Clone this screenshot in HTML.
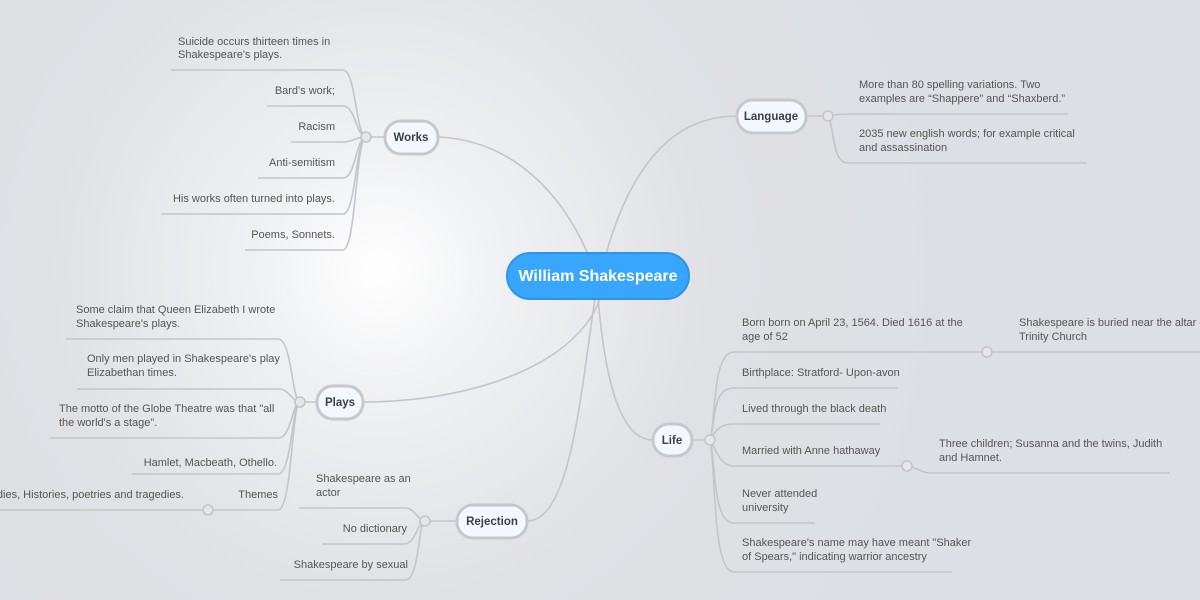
<!DOCTYPE html>
<html><head><meta charset="utf-8"><style>
html,body{margin:0;padding:0;width:1200px;height:600px;overflow:hidden;}
body{background:radial-gradient(circle at 380px 270px,#ffffff 0,#f0f1f3 120px,#dfe1e5 330px,#dcdfe3 600px);font-family:"Liberation Sans",sans-serif;}
svg{position:absolute;left:0;top:0}
text{font-family:"Liberation Sans",sans-serif;font-size:11px;fill:#555}
.b{font-weight:bold;fill:#3a3f4a;font-size:11.5px}
</style></head><body>
<svg width="1200" height="600" viewBox="0 0 1200 600">
<g fill="none" stroke="#c3c5c9" stroke-width="1.6">
<!-- center to mains -->
<path d="M588 254 C560 190 510 140 438 137"/>
<path d="M606 254 C630 170 670 116 737 116"/>
<path d="M600 298 C580 360 480 402 363 402"/>
<path d="M598 298 C605 380 620 440 653 440"/>
<path d="M595 298 C580 400 570 521 527 521"/>
<!-- Works -->
<path d="M385 137 H366"/>
<path d="M171 70 H343 C356 70 356 137 366 137"/>
<path d="M267 106 H343 C356 106 356 137 366 137"/>
<path d="M291 142 H343 C352 142 356 137 366 137"/>
<path d="M258 178 H343 C356 178 356 137 366 137"/>
<path d="M161 214 H343 C356 214 356 137 366 137"/>
<path d="M245 250 H343 C356 250 356 137 366 137"/>
<!-- Plays -->
<path d="M317 402 H300"/>
<path d="M66 339 H278 C292 339 292 402 300 402"/>
<path d="M77 389 H278 C290 389 292 402 300 402"/>
<path d="M50 438 H278 C292 438 292 402 300 402"/>
<path d="M132 474 H278 C292 474 292 402 300 402"/>
<path d="M0 510 H278 C292 510 292 402 300 402"/>
<!-- Rejection -->
<path d="M457 521 H425"/>
<path d="M299 508 H405 C415 508 418 521 425 521"/>
<path d="M322 544 H405 C415 544 418 521 425 521"/>
<path d="M280 580 H405 C420 580 418 521 425 521"/>
<!-- Language -->
<path d="M806 116 H828"/>
<path d="M828 116 C835 114 845 114 870 114 H1068"/>
<path d="M828 116 C835 130 832 163 848 163 H1087"/>
<!-- Life -->
<path d="M692 440 H710"/>
<path d="M710 440 C716 420 712 352 734 352 H1200"/>
<path d="M710 440 C716 420 712 388 734 388 H898"/>
<path d="M710 440 C716 430 720 424 734 424 H880"/>
<path d="M710 440 C716 450 720 466 734 466 H907 C915 466 920 473 932 473 H1170"/>
<path d="M710 440 C716 460 712 523 734 523 H815"/>
<path d="M710 440 C716 470 712 572 734 572 H952"/>
</g>
<g fill="#e4e6e9" stroke="#c3c5c9" stroke-width="1.6">
<circle cx="366" cy="137" r="5"/><circle cx="300" cy="402" r="5"/><circle cx="208" cy="510" r="5"/>
<circle cx="425" cy="521" r="5"/><circle cx="828" cy="116" r="5"/><circle cx="710" cy="440" r="5"/>
<circle cx="987" cy="352" r="5"/><circle cx="907" cy="466" r="5"/>
</g>
<!-- main nodes -->
<g fill="#f4f8fe" stroke="#c6c8cc" stroke-width="3">
<rect x="385" y="121" width="53" height="33" rx="16"/>
<rect x="317" y="386" width="46" height="33" rx="16"/>
<rect x="457" y="505" width="70" height="33" rx="16"/>
<rect x="737" y="100" width="69" height="33" rx="16"/>
<rect x="653" y="424" width="39" height="32" rx="16"/>
</g>
<rect x="507" y="253" width="182" height="46" rx="23" fill="#37a6fc" stroke="#2e94e8" stroke-width="2"/>
<text x="598" y="281" text-anchor="middle" style="font-size:16px;font-weight:bold;fill:#fff">William Shakespeare</text>
<text class="b" x="411" y="141" text-anchor="middle">Works</text>
<text class="b" x="340" y="406" text-anchor="middle">Plays</text>
<text class="b" x="492" y="525" text-anchor="middle">Rejection</text>
<text class="b" x="771" y="120" text-anchor="middle">Language</text>
<text class="b" x="672" y="444" text-anchor="middle">Life</text>
<!-- Works leaves -->
<text x="178" y="45">Suicide occurs thirteen times in</text>
<text x="178" y="58">Shakespeare's plays.</text>
<g text-anchor="end">
<text x="335" y="94">Bard's work;</text>
<text x="335" y="130">Racism</text>
<text x="335" y="166">Anti-semitism</text>
<text x="335" y="202">His works often turned into plays.</text>
<text x="335" y="238">Poems, Sonnets.</text>
<text x="278" y="498">Themes</text>
<text x="184" y="498">dies, Histories, poetries and tragedies.</text>
<text x="269" y="547">&#160;</text>
<text x="407" y="532">No dictionary</text>
<text x="408" y="568">Shakespeare by sexual</text>
<text x="277" y="466">Hamlet, Macbeath, Othello.</text>
</g>
<text x="76" y="313">Some claim that Queen Elizabeth I wrote</text>
<text x="76" y="327">Shakespeare's plays.</text>
<text x="87" y="362">Only men played in Shakespeare's play</text>
<text x="87" y="376">Elizabethan times.</text>
<text x="59" y="412">The motto of the Globe Theatre was that "all</text>
<text x="59" y="426">the world's a stage".</text>
<text x="316" y="482">Shakespeare as an</text>
<text x="316" y="496">actor</text>
<!-- Language -->
<text x="859" y="88">More than 80 spelling variations. Two</text>
<text x="859" y="102">examples are “Shappere” and “Shaxberd.”</text>
<text x="859" y="137">2035 new english words; for example critical</text>
<text x="859" y="151">and assassination</text>
<!-- Life -->
<text x="742" y="326">Born born on April 23, 1564. Died  1616 at the</text>
<text x="742" y="340">age of 52</text>
<text x="1019" y="326">Shakespeare is buried near the altar of</text>
<text x="1019" y="340">Trinity Church</text>
<text x="742" y="376">Birthplace:  Stratford- Upon-avon</text>
<text x="742" y="412">Lived through the black death</text>
<text x="742" y="454">Married with Anne hathaway</text>
<text x="939" y="447">Three children; Susanna and the twins, Judith</text>
<text x="939" y="461">and Hamnet.</text>
<text x="742" y="497">Never attended</text>
<text x="742" y="511">university</text>
<text x="742" y="546">Shakespeare's name may have meant "Shaker</text>
<text x="742" y="560">of Spears," indicating warrior ancestry</text>
</svg>
</body></html>
